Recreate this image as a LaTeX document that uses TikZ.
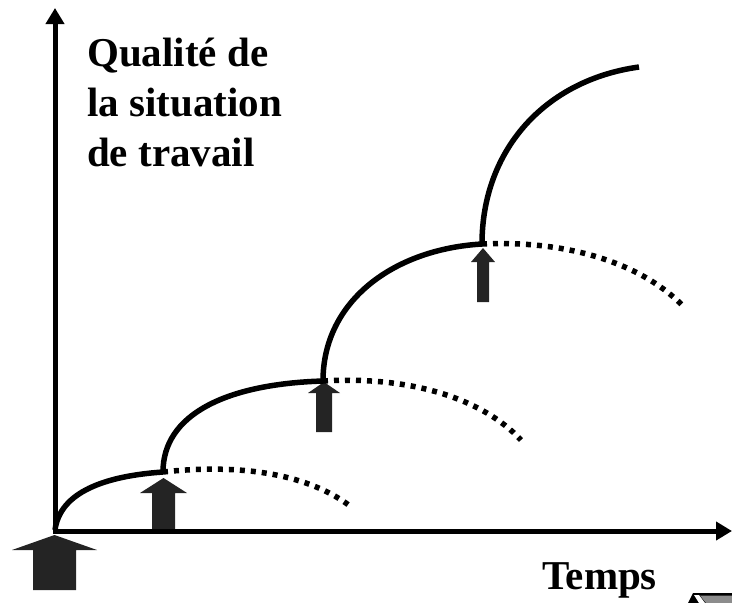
\documentclass[tikz,border=0pt]{standalone}
\usepackage{fontspec}
\setmainfont{Liberation Serif}
\usetikzlibrary{arrows.meta}

\begin{document}
\begin{tikzpicture}[x=1pt, y=-1pt, >={Triangle[length=16pt,width=18pt]},
	axis/.style={line width=5pt},
	growth/.style={line width=5.5pt},
	decline/.style={line width=5.5pt, dash pattern=on 5pt off 6pt},
	push/.style={fill=black!86},
	every node/.style={font=\bfseries\fontsize{41}{50}\selectfont, inner sep=0pt}]
	\useasboundingbox (0,0) rectangle (732,603);
	\coordinate (j0) at (55,530);
	\coordinate (j1) at (163,472);
	\coordinate (j2) at (323,381);
	\coordinate (j3) at (482,244);
	\coordinate (e4) at (639,67);
	\coordinate (d1) at (350,506);
	\coordinate (d2) at (521,440);
	\coordinate (d3) at (683,306);
	\coordinate (ytip) at (55,8);
	\coordinate (xtip) at (732,531);
	\foreach \x/\tip/\base/\hw/\sw/\bot in {54.5/535/550/42.5/21.5/590, 163.5/478/493/23.5/11.5/532, 324/382/393/16/8/432, 483/248/262/12/6/302}
		\fill[push] (\x,\tip) -- (\x+\hw,\base) -- (\x+\sw,\base) -- (\x+\sw,\bot) -- (\x-\sw,\bot) -- (\x-\sw,\base) -- (\x-\hw,\base) -- cycle;
	\draw[axis, ->] (55,532) -- (ytip);
	\draw[axis, ->] (53,531) -- (xtip);
	\draw[growth] (j0) .. controls (60,492) and (105,476) .. (j1);
	\draw[decline] (j1) .. controls (235,464) and (305,472) .. (d1);
	\draw[growth] (j1) .. controls (163,415) and (225,384) .. (j2);
	\draw[decline] (j2) .. controls (405,376) and (480,396) .. (d2);
	\draw[growth] (j2) .. controls (323,300) and (395,249) .. (j3);
	\draw[decline] (j3) .. controls (565,240) and (640,262) .. (d3);
	\draw[growth] (j3) .. controls (482,150) and (545,80) .. (e4);
	\node[anchor=north west, align=left] (quality) at (87,38) {Qualité de\\la situation\\de travail};
	\node[anchor=base west] (time) at (542,589) {Temps};
	\fill[black] (688,603) -- (693,593) -- (732,593) -- (732,603) -- cycle;
	\fill[white] (694,595) -- (699,595) -- (705,603) -- (699,603) -- cycle;
	\fill[black!45] (700,595.5) -- (732,595.5) -- (732,603) -- (706,603) -- cycle;
\end{tikzpicture}
\end{document}
